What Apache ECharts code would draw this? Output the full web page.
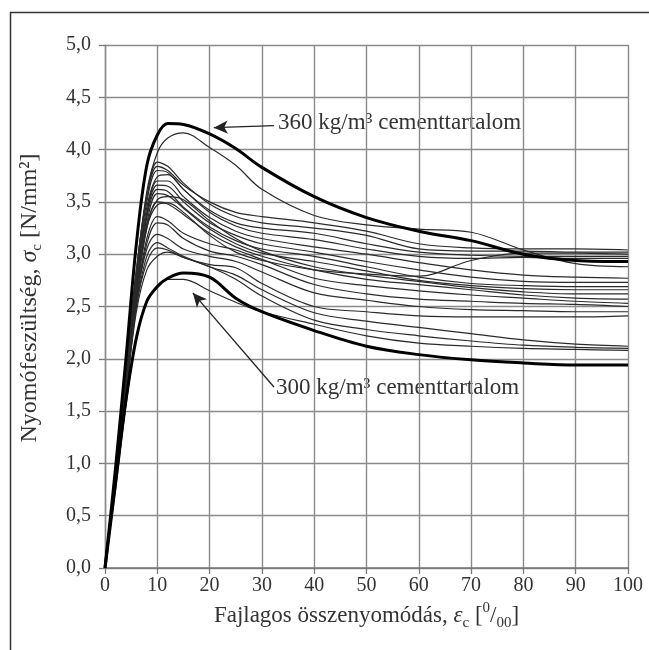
<!DOCTYPE html>
<html><head><meta charset="utf-8">
<script src="https://cdn.jsdelivr.net/npm/echarts@6/dist/echarts.min.js"></script>
<style>html,body{margin:0;padding:0;background:#fff}#c{width:649px;height:650px}</style>
</head><body><div id="c"></div>
<script>
// strain values (x, per mille) at which each curve is sampled
const strain = [0,2,4,6,8,10,12,15,20,25,30,40,50,60,70,80,90,100];
// thick curves
const c360 = [0,0.95,2.0,3.1,3.85,4.14,4.25,4.24,4.15,4.01,3.83,3.55,3.35,3.22,3.13,3.00,2.94,2.93];
const c300 = [0,0.8,1.6,2.2,2.55,2.69,2.77,2.82,2.78,2.58,2.45,2.27,2.12,2.04,1.99,1.96,1.94,1.94];
// thin curves
const t01 = [0,0.85,1.85,2.8,3.6,3.97,4.11,4.16,4.02,3.85,3.62,3.37,3.28,3.24,3.21,3.04,2.91,2.88];
const t02 = [0,0.9,1.9,2.85,3.55,3.88,3.84,3.68,3.48,3.36,3.30,3.25,3.18,3.05,3.03,3.03,3.02,3.02];
const t03 = [0,0.85,1.85,2.8,3.5,3.80,3.78,3.62,3.42,3.30,3.25,3.20,3.10,3.02,2.99,2.98,2.98,2.98];
const t04 = [0,0.85,1.8,2.75,3.45,3.74,3.76,3.62,3.40,3.27,3.20,3.14,3.05,2.98,2.96,2.97,2.96,2.96];
const t05 = [0,0.85,1.8,2.75,3.4,3.70,3.70,3.55,3.35,3.22,3.15,3.07,3.00,2.92,2.85,2.80,2.78,2.77];
const t06 = [0,0.8,1.75,2.7,3.38,3.66,3.65,3.50,3.30,3.18,3.10,3.02,2.93,2.85,2.78,2.74,2.73,2.73];
const t07 = [0,0.8,1.75,2.65,3.35,3.62,3.60,3.45,3.26,3.13,3.05,2.98,2.88,2.78,2.72,2.70,2.69,2.69];
const t08 = [0,0.8,1.7,2.65,3.3,3.58,3.56,3.44,3.24,3.10,3.01,2.93,2.84,2.75,2.70,2.67,2.66,2.66];
const t09 = [0,0.8,1.7,2.6,3.28,3.52,3.55,3.52,3.32,3.15,3.03,2.88,2.80,2.74,2.68,2.64,2.62,2.62];
const t10 = [0,0.8,1.7,2.6,3.25,3.50,3.48,3.38,3.20,3.07,2.98,2.85,2.76,2.71,2.66,2.61,2.58,2.57];
const t11 = [0,0.8,1.7,2.6,3.25,3.47,3.49,3.40,3.18,3.02,2.94,2.85,2.81,2.79,2.94,3.01,3.01,3.00];
const t12 = [0,0.8,1.7,2.55,3.15,3.36,3.32,3.20,3.10,3.04,2.95,2.77,2.70,2.65,2.61,2.58,2.55,2.53];
const t13 = [0,0.8,1.7,2.55,3.05,3.19,3.15,3.05,2.98,2.93,2.83,2.63,2.56,2.50,2.47,2.46,2.45,2.45];
const t14 = [0,0.8,1.65,2.5,2.98,3.11,3.06,2.98,2.88,2.80,2.66,2.44,2.36,2.30,2.24,2.18,2.14,2.12];
const t15 = [0,0.8,1.65,2.45,2.85,2.98,3.02,2.97,2.88,2.76,2.60,2.37,2.28,2.22,2.17,2.13,2.11,2.10];
const t16 = [0,0.75,1.55,2.2,2.55,2.70,2.76,2.76,2.65,2.54,2.45,2.33,2.22,2.15,2.12,2.10,2.09,2.08];
const t17 = [0,0.9,1.9,2.85,3.55,3.84,3.80,3.66,3.50,3.40,3.36,3.30,3.22,3.10,3.06,3.05,3.05,3.04];
const t18 = [0,0.8,1.7,2.55,3.1,3.30,3.28,3.15,3.03,2.98,2.90,2.71,2.62,2.57,2.55,2.53,2.52,2.50];
const t19 = [0,0.8,1.65,2.5,2.92,3.06,3.04,2.97,2.90,2.87,2.72,2.50,2.45,2.41,2.40,2.40,2.40,2.41];
// axis ticks
const xTicks = [0,10,20,30,40,50,60,70,80,90,100];
const yTicks = [0,0.5,1,1.5,2,2.5,3,3.5,4,4.5,5];

const thin = [t01,t02,t03,t04,t05,t06,t07,t08,t09,t10,t11,t12,t13,t14,t15,t16,t17,t18,t19];
const pairs = arr => strain.map((x,i)=>[x,arr[i]]);
const FONT = '"Liberation Serif","Times New Roman",serif';
const TXT = '#333';

const series = thin.map(a => ({
  type:'line', data:pairs(a), showSymbol:false, smooth:0.35,
  lineStyle:{color:'#2a2a2a', width:1.2}, silent:true, z:2
}));
series.push({
  type:'line', data:pairs(c300), showSymbol:false, smooth:0.35,
  lineStyle:{color:'#000', width:3}, z:3, silent:true,
  markLine:{silent:true, symbol:['none','arrow'], symbolSize:[10,14], label:{show:false},
    lineStyle:{color:'#222', width:1.3, type:'solid'},
    data:[[{coord:[32.3,1.73]},{coord:[16.8,2.63]}]]}
});
series.push({
  type:'line', data:pairs(c360), showSymbol:false, smooth:0.35,
  lineStyle:{color:'#000', width:3}, z:3, silent:true,
  markLine:{silent:true, symbol:['none','arrow'], symbolSize:[10,14], label:{show:false},
    lineStyle:{color:'#222', width:1.3, type:'solid'},
    data:[[{coord:[32.3,4.23]},{coord:[20.8,4.21]}]]}
});

const richX = {
  it:{fontFamily:FONT, fontSize:23, fontStyle:'italic', color:TXT, lineHeight:30},
  sub:{fontFamily:FONT, fontSize:15, color:TXT, verticalAlign:'bottom', lineHeight:30},
  sup:{fontFamily:FONT, fontSize:15, color:TXT, verticalAlign:'top', lineHeight:30}
};
const richY = {
  it:{fontFamily:FONT, fontSize:24, fontStyle:'italic', color:TXT, lineHeight:30},
  sub:{fontFamily:FONT, fontSize:15, color:TXT, verticalAlign:'bottom', lineHeight:30}
};

const chart = echarts.init(document.getElementById('c'), null, {renderer:'canvas'});
chart.setOption({
  animation:false,
  backgroundColor:'#fff',
  grid:{left:105, right:21, top:45, bottom:82, containLabel:false},
  xAxis:{type:'value', min:0, max:100, interval:10,
    name:'Fajlagos összenyomódás, {it|ε}{sub|c} [{sup|0}/{sub|00}]',
    nameLocation:'middle', nameGap:22,
    nameTextStyle:{fontFamily:FONT, fontSize:23, color:TXT, lineHeight:30, rich:richX},
    axisLine:{show:true, lineStyle:{color:'#777', width:1.5}},
    axisTick:{show:true, length:6, lineStyle:{color:'#777', width:1.3}},
    axisLabel:{fontFamily:FONT, fontSize:20, color:TXT, margin:8,
      customValues:xTicks, formatter:v=>String(v)},
    splitLine:{show:true, lineStyle:{color:'#8a8a8a', width:1.4}}
  },
  yAxis:{type:'value', min:0, max:5, interval:0.5,
    axisLine:{show:true, lineStyle:{color:'#8a8a8a', width:1.4}},
    axisTick:{show:true, length:6, lineStyle:{color:'#777', width:1.3}},
    axisLabel:{fontFamily:FONT, fontSize:20, color:TXT, margin:14,
      customValues:yTicks, formatter:v=>v.toFixed(1).replace('.',',')},
    splitLine:{show:true, lineStyle:{color:'#8a8a8a', width:1.4}}
  },
  graphic:[
    {type:'rect', left:8, top:10, shape:{width:700, height:700},
      style:{fill:'none', stroke:'#333', lineWidth:1.5}, silent:true},
    {type:'text', x:30, y:298, rotation:Math.PI/2, silent:true,
      style:{text:'Nyomófeszültség, {it|σ}{sub|c} [N/mm²]', font:'24px '+FONT, fill:TXT,
        align:'center', verticalAlign:'middle', lineHeight:30, rich:richY}},
    {type:'text', left:278, top:111, silent:true,
      style:{text:'360 kg/m³ cementtartalom', font:'23px '+FONT, fill:TXT}},
    {type:'text', left:276, top:376, silent:true,
      style:{text:'300 kg/m³ cementtartalom', font:'23px '+FONT, fill:TXT}}
  ],
  series:series
});
</script></body></html>
